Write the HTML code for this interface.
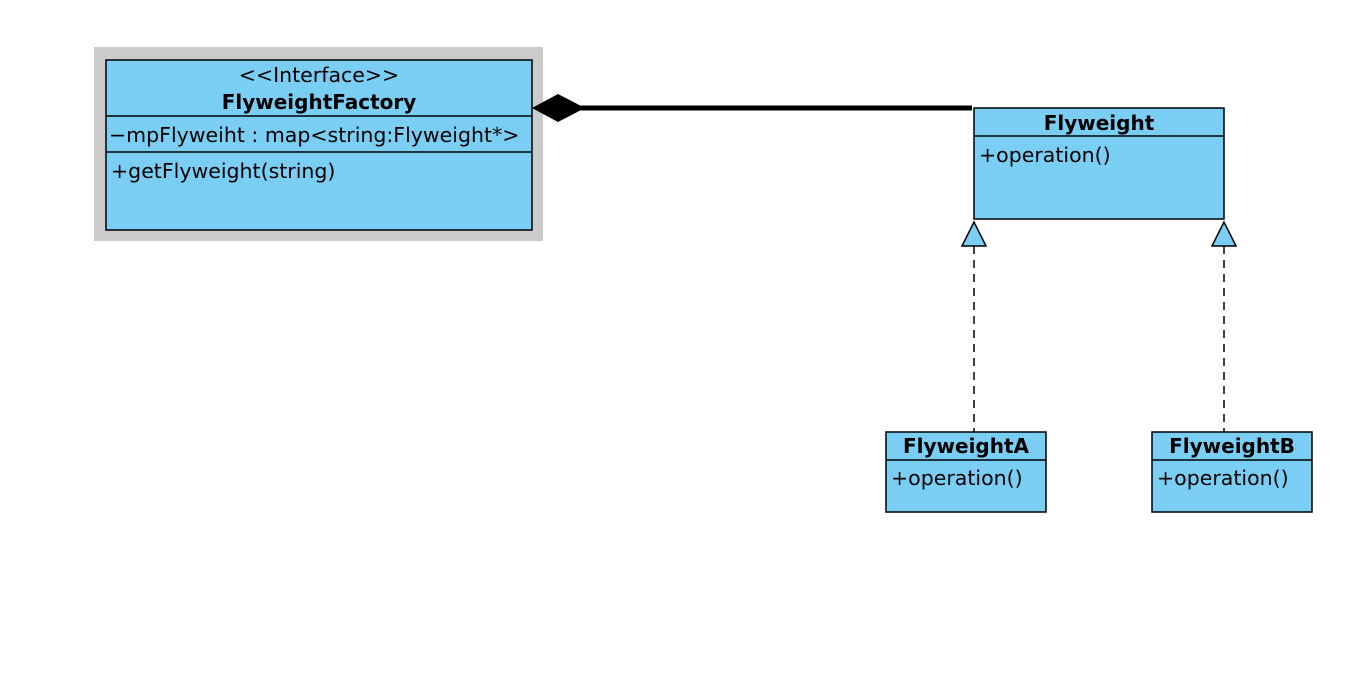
<!DOCTYPE html>
<html><head><meta charset="utf-8"><style>html,body{margin:0;padding:0;background:#fff}svg{display:block}text{font-family:"DejaVu Sans","Liberation Sans",sans-serif;font-size:20.5px;fill:#000}.b{font-weight:bold;font-size:20px}</style></head><body>
<svg width="1360" height="688" viewBox="0 0 1360 688" xmlns="http://www.w3.org/2000/svg">
<rect x="94" y="47" width="449" height="194" fill="#cbcbcb"/>
<rect x="106" y="60" width="426" height="170" fill="#7acef4" stroke="#000" stroke-width="1.5"/>
<line x1="106" y1="116" x2="532" y2="116" stroke="#000" stroke-width="1.5"/>
<line x1="106" y1="152" x2="532" y2="152" stroke="#000" stroke-width="1.5"/>
<text x="319" y="82" text-anchor="middle">&lt;&lt;Interface&gt;&gt;</text>
<text x="319" y="109" text-anchor="middle" class="b">FlyweightFactory</text>
<text x="109" y="142">−mpFlyweiht : map&lt;string:Flyweight*&gt;</text>
<text x="111" y="178">+getFlyweight(string)</text>
<polygon points="532,108 558,94 585,108 558,122" fill="#000"/>
<line x1="580" y1="108" x2="972" y2="108" stroke="#000" stroke-width="5"/>
<rect x="974" y="108" width="250" height="111" fill="#7acef4" stroke="#000" stroke-width="1.5"/>
<line x1="974" y1="136" x2="1224" y2="136" stroke="#000" stroke-width="1.5"/>
<text x="1099" y="130" text-anchor="middle" class="b">Flyweight</text>
<text x="979" y="162">+operation()</text>
<line x1="974" y1="246" x2="974" y2="432" stroke="#000" stroke-width="1.5" stroke-dasharray="8,6"/>
<line x1="1224" y1="246" x2="1224" y2="432" stroke="#000" stroke-width="1.5" stroke-dasharray="8,6"/>
<polygon points="974,222 962,246 986,246" fill="#7acef4" stroke="#000" stroke-width="1.5"/>
<polygon points="1224,222 1212,246 1236,246" fill="#7acef4" stroke="#000" stroke-width="1.5"/>
<rect x="886" y="432" width="160" height="80" fill="#7acef4" stroke="#000" stroke-width="1.5"/>
<line x1="886" y1="460" x2="1046" y2="460" stroke="#000" stroke-width="1.5"/>
<text x="966" y="453" text-anchor="middle" class="b">FlyweightA</text>
<text x="891" y="485">+operation()</text>
<rect x="1152" y="432" width="160" height="80" fill="#7acef4" stroke="#000" stroke-width="1.5"/>
<line x1="1152" y1="460" x2="1312" y2="460" stroke="#000" stroke-width="1.5"/>
<text x="1232" y="453" text-anchor="middle" class="b">FlyweightB</text>
<text x="1157" y="485">+operation()</text>
</svg>
</body></html>
